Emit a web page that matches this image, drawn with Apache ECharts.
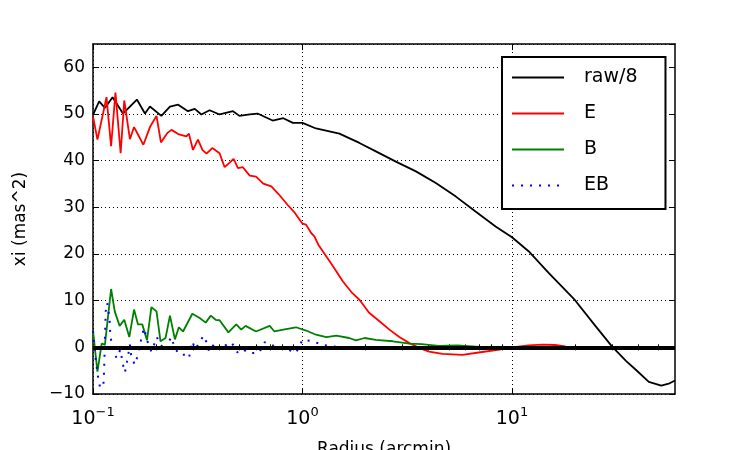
<!DOCTYPE html>
<html>
<head>
<meta charset="utf-8">
<script src="https://cdn.jsdelivr.net/npm/echarts@6/dist/echarts.min.js"></script>
<style>
  html, body { margin: 0; padding: 0; background: #fff; }
  #chart { width: 750px; height: 450px; }
</style>
</head>
<body>
<div id="chart"></div>
<script>
// Values (radius in arcmin, xi in mas^2)
const rawR = [0.1, 0.107, 0.114, 0.124, 0.139, 0.162, 0.177, 0.187, 0.212, 0.233, 0.255, 0.284, 0.306, 0.329, 0.36, 0.402, 0.466, 0.5, 0.56, 0.61, 0.72, 0.81, 0.9, 1.0, 1.16, 1.5, 1.87, 2.24, 2.79, 3.48, 4.33, 5.4, 6.7, 8.35, 10, 12, 15, 20, 25, 30, 35, 39, 45, 51.6, 56, 60];
const rawXi = [49.8, 52.7, 51.3, 53.6, 50.1, 53.1, 50.1, 51.6, 49.6, 51.6, 52.0, 50.6, 51.1, 49.9, 50.8, 49.9, 50.6, 49.6, 49.9, 50.1, 48.6, 49.1, 48.1, 48.1, 46.9, 45.8, 43.8, 42.0, 39.8, 37.7, 35.2, 32.3, 29.1, 25.9, 23.6, 20.6, 15.9, 10.1, 4.6, 0.2, -2.9, -4.8, -7.4, -8.2, -7.8, -7.1];

const eR = [0.1, 0.105, 0.116, 0.122, 0.128, 0.1355, 0.141, 0.15, 0.157, 0.164, 0.174, 0.187, 0.201, 0.211, 0.226, 0.237, 0.255, 0.279, 0.287, 0.3, 0.317, 0.333, 0.348, 0.371, 0.402, 0.425, 0.449, 0.469, 0.492, 0.519, 0.56, 0.6, 0.65, 0.71, 0.77, 0.85, 0.92, 1.0, 1.04, 1.1, 1.14, 1.19, 1.25, 1.35, 1.45, 1.56, 1.73, 1.87, 2.08, 2.33, 2.6, 2.9, 3.24, 3.6, 4.02, 4.66, 5.8, 7.2, 8.7, 10, 12, 14, 16, 18];
const eXi = [49.5, 44.5, 53.6, 43.1, 54.6, 41.6, 52.9, 44.6, 47.2, 45.6, 43.4, 47.2, 49.6, 43.9, 45.9, 46.6, 45.7, 45.2, 45.8, 42.3, 44.5, 42.3, 41.5, 42.7, 41.6, 38.6, 39.6, 40.4, 38.4, 38.6, 36.8, 36.6, 35.1, 34.5, 32.8, 30.5, 28.8, 26.5, 26.3, 24.5, 23.8, 22.0, 20.6, 18.4, 16.3, 14.1, 11.6, 10.2, 7.4, 5.6, 3.8, 2.2, 0.9, -0.1, -0.9, -1.4, -1.6, -1.0, -0.5, 0.0, 0.4, 0.6, 0.5, 0.2];

const bR = [0.1, 0.105, 0.11, 0.114, 0.122, 0.127, 0.134, 0.141, 0.149, 0.157, 0.164, 0.172, 0.181, 0.19, 0.201, 0.21, 0.222, 0.233, 0.246, 0.257, 0.269, 0.298, 0.323, 0.345, 0.365, 0.385, 0.402, 0.443, 0.483, 0.51, 0.535, 0.6, 0.697, 0.735, 0.81, 0.93, 1.04, 1.16, 1.3, 1.45, 1.67, 1.8, 1.98, 2.24, 2.7, 3.24, 3.7, 4.47, 5.5, 7, 9, 12];
const bXi = [3.6, -5.2, 0.8, 0.6, 12.5, 7.7, 4.6, 5.9, 2.2, 8.1, 4.9, 4.9, 1.5, 8.6, 7.7, 1.3, 2.0, 6.8, 1.7, 4.3, 3.4, 7.2, 6.3, 5.3, 6.8, 5.9, 5.8, 3.2, 4.9, 3.8, 4.6, 3.4, 4.6, 3.4, 3.8, 4.3, 3.6, 2.7, 2.2, 2.5, 2.0, 1.5, 2.0, 1.6, 1.3, 0.8, 0.7, 0.3, 0.4, 0.1, 0.0, 0.1];

const ebR = [0.1, 0.102, 0.106, 0.108, 0.112, 0.113, 0.115, 0.117, 0.12, 0.121, 0.125, 0.13, 0.135, 0.139, 0.142, 0.146, 0.15, 0.152, 0.158, 0.162, 0.166, 0.169, 0.175, 0.18, 0.183, 0.19, 0.202, 0.207, 0.222, 0.227, 0.237, 0.245, 0.259, 0.277, 0.287, 0.298, 0.307, 0.32, 0.337, 0.35, 0.358, 0.38, 0.394, 0.458, 0.49, 0.52, 0.55, 0.62, 0.66, 0.74, 0.82, 0.93, 1.0, 1.12, 1.25, 1.5, 2, 3, 4];
const ebXi = [3.5, -1.2, -6.8, -8.5, -8.5, -4.8, 7.7, 9.5, 5.9, 2.5, -1.1, -2.3, -0.5, -3.7, -5.4, -2.6, 0.6, -1.6, -3.7, -2.3, -0.4, 1.3, 4.1, 2.2, 0.9, -0.9, 2.2, 0.9, -0.7, 0.8, 2.2, -0.1, -1.6, -1.6, -2.3, 1.3, -0.4, 0.8, 2.5, 0.9, -0.9, 0.8, -0.4, 1.1, -1.1, -0.4, -1.2, -1.2, 1.1, 0.2, -0.1, -1.2, 1.6, 1.3, 0.5, 0.0, -0.2, 0.1, 0.0];

const seriesNames = ['raw/8', 'E', 'B', 'EB'];
const majorTicks = [0.1, 1, 10];
const minorTicks = [0.2, 0.3, 0.4, 0.5, 0.6, 0.7, 0.8, 0.9, 2, 3, 4, 5, 6, 7, 8, 9, 20, 30, 40, 50];

const fontFamily = 'DejaVu Sans';
const black = '#000';

function pairs(xs, ys) {
  return xs.map((x, i) => [x, ys[i]]);
}

function minusSign(v) {
  return v < 0 ? '\u2212' + (-v) : String(v);
}

const chart = echarts.init(document.getElementById('chart'));

// Shared bits for the boxed (matplotlib style) frame
const frameLine = { show: true, onZero: false, lineStyle: { color: black, width: 1.5 } };
const dotted = { show: true, lineStyle: { color: black, width: 1, type: [1, 3] } };

function xAxisDef(position, ticks, tickLen, withLabels, withLine) {
  return {
    type: 'log',
    logBase: 10,
    min: 0.1,
    max: 60,
    position: position,
    axisLine: withLine ? frameLine : { show: false },
    axisTick: { show: true, inside: true, length: tickLen, customValues: ticks, lineStyle: { color: black, width: 1 } },
    axisLabel: withLabels ? {
      show: true,
      customValues: majorTicks,
      margin: 12,
      color: black,
      formatter: function(value) {
        const exp = Math.round(Math.log10(value));
        return '{b|10}{s|' + minusSign(exp) + '}';
      },
      rich: {
        b: { fontSize: 19, fontFamily: fontFamily, color: black },
        s: { fontSize: 13, fontFamily: fontFamily, color: black, padding: [0, 0, 14, 0] }
      }
    } : { show: false },
    splitLine: withLabels ? dotted : { show: false },
    name: withLabels ? 'Radius (arcmin)' : '',
    nameLocation: 'middle',
    nameGap: 47,
    nameTextStyle: { fontSize: 17, fontFamily: fontFamily, color: black }
  };
}

function yAxisDef(position, withLabels) {
  return {
    type: 'value',
    min: -10,
    max: 65,
    interval: 10,
    position: position,
    axisLine: frameLine,
    axisTick: { show: true, inside: true, length: 6, lineStyle: { color: black, width: 1 } },
    axisLabel: withLabels ? {
      show: true,
      showMaxLabel: false,
      margin: 8,
      color: black,
      fontSize: 17,
      fontFamily: fontFamily,
      formatter: minusSign
    } : { show: false },
    splitLine: withLabels ? dotted : { show: false },
    name: withLabels ? 'xi (mas^2)' : '',
    nameLocation: 'middle',
    nameGap: 64,
    nameTextStyle: { fontSize: 17, fontFamily: fontFamily, color: black }
  };
}

function lineSeries(name, data, color, extra) {
  return Object.assign({
    name: name,
    type: 'line',
    data: data,
    xAxisIndex: 0,
    yAxisIndex: 0,
    symbol: 'none',
    color: color,
    lineStyle: { color: color, width: 1.8 },
    animation: false,
    z: 2
  }, extra || {});
}

const option = {
  backgroundColor: '#fff',
  animation: false,
  // fixed plot box; let the axis title run off the bottom like the original
  grid: { left: 93, right: 75, top: 44, bottom: 56, outerBoundsMode: 'none' },
  legend: {
    data: seriesNames,
    orient: 'vertical',
    left: 502,
    top: 57,
    itemWidth: 52,
    itemHeight: 20,
    itemGap: 17,
    padding: [11, 28, 14, 9],
    borderColor: black,
    borderWidth: 2,
    borderRadius: 0,
    backgroundColor: '#fff',
    // hide the marker dot, keep only the line sample
    itemStyle: { opacity: 0 },
    textStyle: { fontSize: 19, fontFamily: fontFamily, color: black, padding: [0, 0, 0, 15] },
    z: 10
  },
  xAxis: [
    xAxisDef('bottom', majorTicks, 6, true, true),
    xAxisDef('top', majorTicks, 6, false, true),
    xAxisDef('bottom', minorTicks, 3, false, false),
    xAxisDef('top', minorTicks, 3, false, false)
  ],
  yAxis: [
    yAxisDef('left', true),
    yAxisDef('right', false)
  ],
  series: [
    lineSeries('raw/8', pairs(rawR, rawXi), black),
    lineSeries('E', pairs(eR, eXi), '#ff0000'),
    lineSeries('B', pairs(bR, bXi), '#008000'),
    lineSeries('EB', pairs(ebR, ebXi), '#0000ff', {
      lineStyle: { color: '#0000ff', width: 2, type: [2, 7] },
      z: 3,
      markLine: {
        silent: true,
        symbol: ['none', 'none'],
        label: { show: false },
        lineStyle: { color: black, width: 4, type: 'solid' },
        data: [{ yAxis: 0 }]
      }
    })
  ]
};

chart.setOption(option);
</script>
</body>
</html>
